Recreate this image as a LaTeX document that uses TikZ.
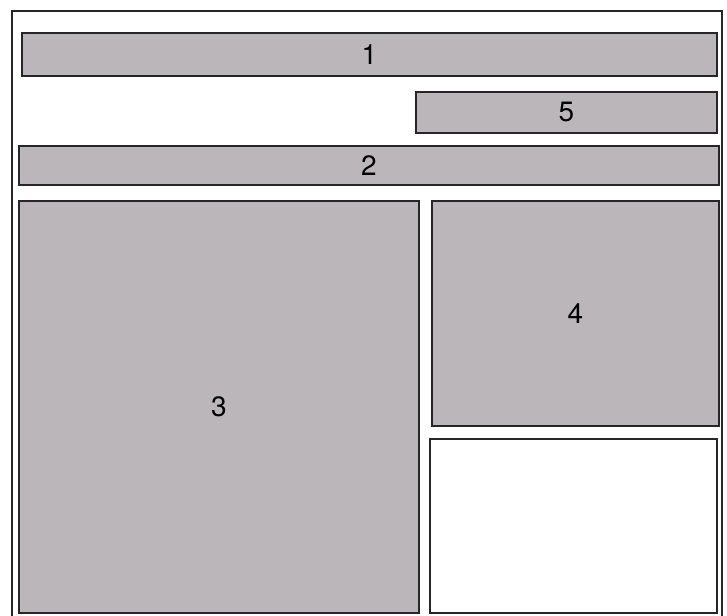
\documentclass[tikz,border=0pt]{standalone}
\usepackage{fontspec}
\setmainfont{TeX Gyre Heros}
\definecolor{boxgray}{RGB}{186,182,186}
\begin{document}
\begin{tikzpicture}[x=1pt,y=-1pt,
  box/.style={draw=black!85, line width=1.8pt, fill=boxgray, anchor=north west,
    inner sep=0pt, font=\fontsize{28}{28}\selectfont},
  emptybox/.style={draw=black!85, line width=1.8pt, fill=white, anchor=north west, inner sep=0pt}]
\useasboundingbox (0,0) rectangle (727,615);
\node[draw=black!85, line width=1.6pt, anchor=north west, inner sep=0pt,
  minimum width=710pt, minimum height=606pt] (frame) at (11,10) {};
\node[box, minimum width=695pt, minimum height=43pt] (b1) at (21,32) {1};
\node[box, minimum width=301pt, minimum height=41pt] (b5) at (415,91) {5};
\node[box, minimum width=700pt, minimum height=39pt] (b2) at (18,145) {2};
\node[box, minimum width=400pt, minimum height=412pt] (b3) at (18,200) {3};
\node[box, minimum width=287pt, minimum height=225pt] (b4) at (431,200) {4};
\node[emptybox, minimum width=287pt, minimum height=174pt] (b6) at (429,438) {};
\end{tikzpicture}
\end{document}
